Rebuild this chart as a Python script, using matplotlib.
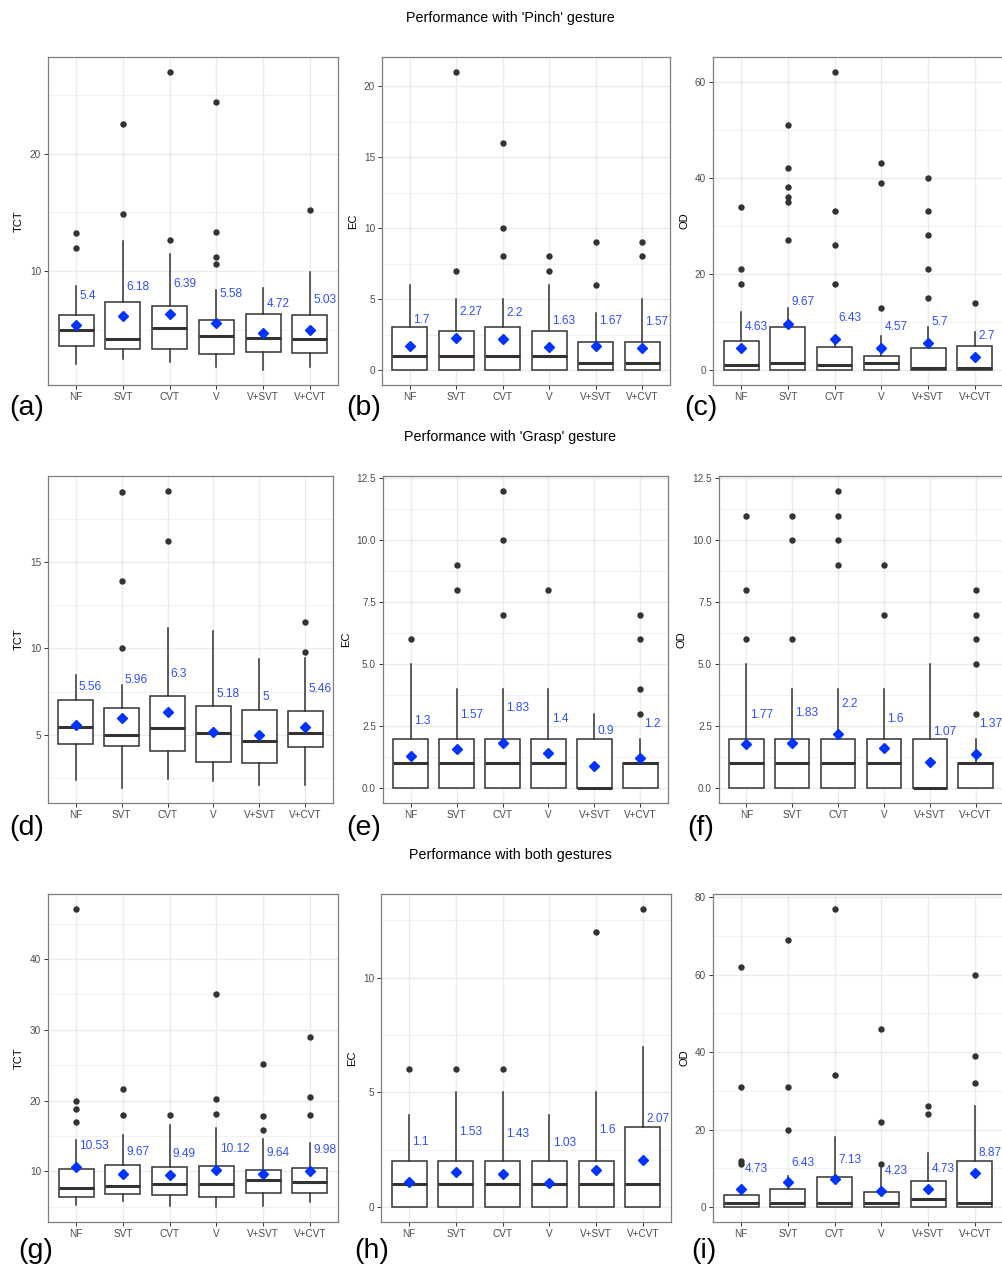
import numpy as np
import matplotlib.pyplot as plt
from matplotlib.ticker import FormatStrFormatter

plt.rcParams['font.family'] = ['Liberation Sans', 'DejaVu Sans']

conditions = ['NF', 'SVT', 'CVT', 'V', 'V+SVT', 'V+CVT']

# box stats per condition: [lower whisker, Q1, median, Q3, upper whisker]
# --- Pinch gesture ---
pinch_tct_box = [[2.15, 3.63, 5.04, 6.26, 8.73], [2.52, 3.37, 4.25, 7.39, 12.58],
                 [2.24, 3.40, 5.16, 7.03, 11.5], [1.87, 2.95, 4.48, 5.89, 8.44],
                 [1.59, 3.14, 4.36, 6.40, 8.61], [1.87, 3.06, 4.22, 6.26, 9.94]]
pinch_tct_out = [[11.98, 13.26], [14.84, 22.55], [12.69, 26.94],
                 [10.65, 11.22, 13.29, 24.39], [], [15.24]]
pinch_tct_mean = [5.4, 6.18, 6.39, 5.58, 4.72, 5.03]

pinch_ec_box = [[0, 0, 1, 3, 6], [0, 0, 1, 2.75, 5], [0, 0, 1, 3, 5],
                [0, 0, 1, 2.75, 6], [0, 0, 0.5, 2, 4], [0, 0, 0.5, 2, 5]]
pinch_ec_out = [[], [7, 21], [8, 10, 16], [7, 8], [6, 9], [8, 9]]
pinch_ec_mean = [1.7, 2.27, 2.2, 1.63, 1.67, 1.57]

pinch_od_box = [[0, 0, 1, 6, 12], [0, 0, 1.5, 9, 13], [0, 0, 1, 4.75, 6],
                [0, 0, 1.5, 3, 7], [0, 0, 0.5, 4.5, 9], [0, 0, 0.5, 5, 8]]
pinch_od_out = [[18, 21, 34], [27, 35, 36, 38, 42, 51], [18, 26, 33, 62],
                [13, 39, 43], [15, 21, 28, 33, 40], [14]]
pinch_od_mean = [4.63, 9.67, 6.43, 4.57, 5.7, 2.7]

# --- Grasp gesture ---
grasp_tct_box = [[2.40, 4.48, 5.46, 7.0, 8.48], [1.92, 4.35, 4.98, 6.54, 7.88],
                 [2.46, 4.04, 5.42, 7.27, 11.2], [2.31, 3.42, 5.12, 6.67, 11.0],
                 [2.08, 3.37, 4.62, 6.44, 9.38], [2.08, 4.29, 5.13, 6.40, 9.42]]
grasp_tct_out = [[], [10.04, 13.87, 19.06], [16.21, 19.1], [], [], [9.79, 11.54]]
grasp_tct_mean = [5.56, 5.96, 6.3, 5.18, 5, 5.46]

grasp_ec_box = [[0, 0, 1, 2, 5], [0, 0, 1, 2, 4], [0, 0, 1, 2, 4],
                [0, 0, 1, 2, 4], [0, 0, 0, 2, 3], [0, 0, 1, 1, 2]]
grasp_ec_out = [[6], [8, 9], [7, 10, 12], [8], [], [3, 4, 6, 7]]
grasp_ec_mean = [1.3, 1.57, 1.83, 1.4, 0.9, 1.2]

grasp_od_box = [[0, 0, 1, 2, 5], [0, 0, 1, 2, 4], [0, 0, 1, 2, 4],
                [0, 0, 1, 2, 4], [0, 0, 0, 2, 5], [0, 0, 1, 1, 2]]
grasp_od_out = [[6, 8, 11], [6, 10, 11], [9, 10, 11, 12], [7, 9], [], [3, 5, 6, 7, 8]]
grasp_od_mean = [1.77, 1.83, 2.2, 1.6, 1.07, 1.37]

# --- Both gestures ---
both_tct_box = [[5.21, 6.38, 7.56, 10.38, 14.46], [5.77, 6.81, 7.89, 10.85, 15.07],
                [5.07, 6.57, 8.22, 10.66, 16.57], [4.93, 6.34, 8.22, 10.7, 16.1],
                [5.07, 6.95, 8.78, 10.23, 14.6], [5.68, 6.95, 8.45, 10.42, 13.99]]
both_tct_out = [[16.95, 18.78, 20.0, 47.09], [17.89, 21.64], [17.98],
                [18.08, 20.19, 35.07], [15.77, 17.75, 25.16], [17.89, 20.52, 28.92]]
both_tct_mean = [10.53, 9.67, 9.49, 10.12, 9.64, 9.98]

both_ec_box = [[0, 0, 1, 2, 4], [0, 0, 1, 2, 5], [0, 0, 1, 2, 5],
               [0, 0, 1, 2, 4], [0, 0, 1, 2, 5], [0, 0, 1, 3.5, 7]]
both_ec_out = [[6], [6], [6], [], [12], [13]]
both_ec_mean = [1.1, 1.53, 1.43, 1.03, 1.6, 2.07]

both_od_box = [[0, 0, 1, 3, 4], [0, 0, 1, 4.75, 8], [0, 0, 1, 7.75, 18],
               [0, 0, 1, 4, 10], [0, 0, 2, 6.75, 14], [0, 0, 1, 12, 26]]
both_od_out = [[11, 12, 31, 62], [20, 31, 69], [34, 77], [11, 22, 46],
               [24, 26], [32, 39, 60]]
both_od_mean = [4.73, 6.43, 7.13, 4.23, 4.73, 8.87]

row_titles = ["Performance with 'Pinch' gesture",
              "Performance with 'Grasp' gesture",
              "Performance with both gestures"]

W, H = 1003, 1268
fig = plt.figure(figsize=(W / 100, H / 100), dpi=100)

# panel: data, y label, major ticks, label offset, pixel box (left, right, top, bottom), tag, tag pos
panels = [
    (pinch_tct_box, pinch_tct_out, pinch_tct_mean, 'TCT', [10, 20], 2.5, (48, 338, 57, 385), '(a)', (27, 408)),
    (pinch_ec_box, pinch_ec_out, pinch_ec_mean, 'EC', [0, 5, 10, 15, 20], 1.8, (382, 670, 57, 385), '(b)', (364, 408)),
    (pinch_od_box, pinch_od_out, pinch_od_mean, 'OD', [0, 20, 40, 60], 4.4, (713, 1003, 57, 385), '(c)', (701, 408)),
    (grasp_tct_box, grasp_tct_out, grasp_tct_mean, 'TCT', [5, 10, 15], 2.2, (48, 333, 476, 803), '(d)', (27, 828)),
    (grasp_ec_box, grasp_ec_out, grasp_ec_mean, 'EC', [0, 2.5, 5, 7.5, 10, 12.5], 1.4, (383, 668, 476, 803), '(e)', (364, 828)),
    (grasp_od_box, grasp_od_out, grasp_od_mean, 'OD', [0, 2.5, 5, 7.5, 10, 12.5], 1.2, (719, 1003, 476, 803), '(f)', (701, 828)),
    (both_tct_box, both_tct_out, both_tct_mean, 'TCT', [10, 20, 30, 40], 3.0, (48, 338, 894, 1222), '(g)', (36, 1251)),
    (both_ec_box, both_ec_out, both_ec_mean, 'EC', [0, 5, 10], 1.75, (381, 671, 894, 1222), '(h)', (372, 1251)),
    (both_od_box, both_od_out, both_od_mean, 'OD', [0, 20, 40, 60, 80], 5.0, (713, 1003, 894, 1222), '(i)', (704, 1251)),
]

edge = '#333333'
grid_c = '#EBEBEB'
mean_c = '#0033FF'
text_c = '#2F4FFF'

for box, out, means, ylab, ticks, off, (l, r, t, b), tag, (tx, ty) in panels:
    ax = fig.add_axes([l / W, 1 - b / H, (r - l) / W, (b - t) / H])
    x = np.arange(1, len(conditions) + 1)
    stats = []
    for name, s, o in zip(conditions, box, out):
        stats.append(dict(label=name, whislo=s[0], q1=s[1], med=s[2], q3=s[3],
                          whishi=s[4], fliers=o))
    ax.bxp(stats, positions=x, widths=0.75, patch_artist=True, showcaps=False,
           boxprops=dict(facecolor='white', edgecolor=edge, linewidth=1.1),
           medianprops=dict(color=edge, linewidth=2.2, solid_capstyle='butt'),
           whiskerprops=dict(color=edge, linewidth=1.1),
           flierprops=dict(marker='o', markerfacecolor=edge, markeredgecolor=edge,
                           markersize=3.6), zorder=3)
    ax.plot(x, means, linestyle='none', marker='D', color=mean_c, markersize=5.2, zorder=5)
    for xi, m in zip(x, means):
        ax.text(xi + 0.07, m + off, f'{m:g}', color=text_c, fontsize=8.6,
                ha='left', va='center', zorder=6)

    lo = min(min(s[0] for s in box), min([v for o in out for v in o] or [np.inf]))
    hi = max(max(s[4] for s in box), max([v for o in out for v in o] or [-np.inf]))
    pad = 0.05 * (hi - lo)
    ax.set_ylim(lo - pad, hi + pad)
    ax.set_xlim(0.4, len(conditions) + 0.6)

    step = ticks[1] - ticks[0]
    minor = np.arange(ticks[0] - step / 2, ticks[-1] + step, step)
    minor = minor[(minor > lo - pad) & (minor < hi + pad)]
    ax.set_yticks(ticks)
    ax.set_yticks(minor, minor=True)
    if step == 2.5:
        ax.yaxis.set_major_formatter(FormatStrFormatter('%.1f'))
    ax.set_xticks(x)
    ax.set_xticklabels(conditions)

    ax.set_axisbelow(True)
    ax.grid(True, which='major', color=grid_c, linewidth=1.0)
    ax.grid(True, which='minor', axis='y', color=grid_c, linewidth=0.5)
    ax.tick_params(axis='both', which='major', labelsize=7.2, labelcolor='#4D4D4D',
                   color='#333333', length=3, width=0.7, pad=2)
    ax.tick_params(which='minor', length=0)
    for sp in ax.spines.values():
        sp.set_color('#7F7F7F')
        sp.set_linewidth(0.9)
    ax.set_ylabel(ylab, fontsize=8, labelpad=4)

    fig.text(tx / W, 1 - ty / H, tag, fontsize=20.5, ha='center', va='center')

for title, y in zip(row_titles, [18, 437, 855]):
    fig.text(510 / W, 1 - y / H, title, fontsize=10.3, ha='center', va='center')

fig.savefig('out.png', dpi=100, facecolor='white')
